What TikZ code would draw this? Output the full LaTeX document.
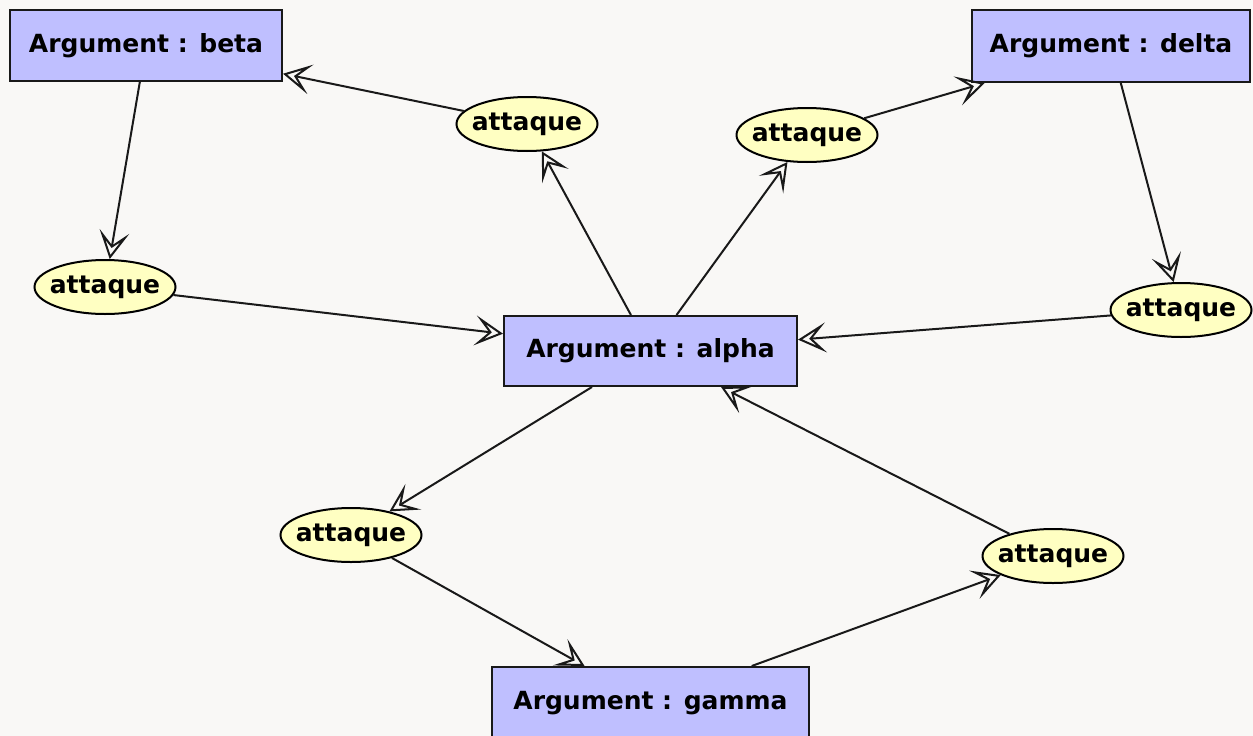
\documentclass[tikz,border=0pt]{standalone}
\usepackage{fontspec}
\setmainfont{DejaVu Sans}
\usetikzlibrary{arrows.meta,shapes.geometric}
\definecolor{bgc}{HTML}{F9F8F6}
\definecolor{argfill}{HTML}{BFBFFF}
\definecolor{attfill}{HTML}{FFFFC2}
\tikzset{
  argbox/.style={draw=black!90, line width=2pt, fill=argfill, inner sep=0pt,
    font=\bfseries\fontsize{25}{29}\selectfont},
  attnode/.style={ellipse, draw=black, line width=2pt, fill=attfill,
    inner xsep=-16pt, inner ysep=-6pt,
    minimum width=141pt, minimum height=54pt, font=\bfseries\fontsize{25}{29}\selectfont},
  link/.style={line width=2pt, draw=black!90,
    -{Stealth[open, length=28pt, width=30pt, inset=14pt]}}
}
\begin{document}
\begin{tikzpicture}[x=1pt,y=-1pt]
\fill[bgc] (0,0) rectangle (1253,736);
\useasboundingbox (0,0) rectangle (1253,736);
% arguments
\node[argbox, minimum width=272pt, minimum height=71pt] (beta) at (146,45.5) {Argument : beta};
\node[argbox, minimum width=278pt, minimum height=72pt] (delta) at (1111,46) {Argument : delta};
\node[argbox, minimum width=293pt, minimum height=70pt] (alpha) at (650.5,351) {Argument : alpha};
\node[argbox, minimum width=317pt, minimum height=72pt] (gamma) at (650.5,703) {Argument : gamma};
% attaques
\node[attnode] (a1) at (527,124) {attaque};
\node[attnode] (a2) at (807,135) {attaque};
\node[attnode] (a3) at (105,287) {attaque};
\node[attnode] (a4) at (1181,310) {attaque};
\node[attnode] (a5) at (351,535) {attaque};
\node[attnode] (a6) at (1053,556) {attaque};
% connectors
\draw[link] (beta) -- (a3);
\draw[link] (a3) -- (alpha);
\draw[link] (a1) -- (beta);
\draw[link] (alpha) -- (a1);
\draw[link] (alpha) -- (a2);
\draw[link] (a2) -- (delta);
\draw[link] (delta) -- (a4);
\draw[link] (a4) -- (alpha);
\draw[link] (alpha) -- (a5);
\draw[link] (a5) -- (gamma);
\draw[link] (gamma) -- (a6);
\draw[link] (a6) -- (alpha);
\end{tikzpicture}
\end{document}
